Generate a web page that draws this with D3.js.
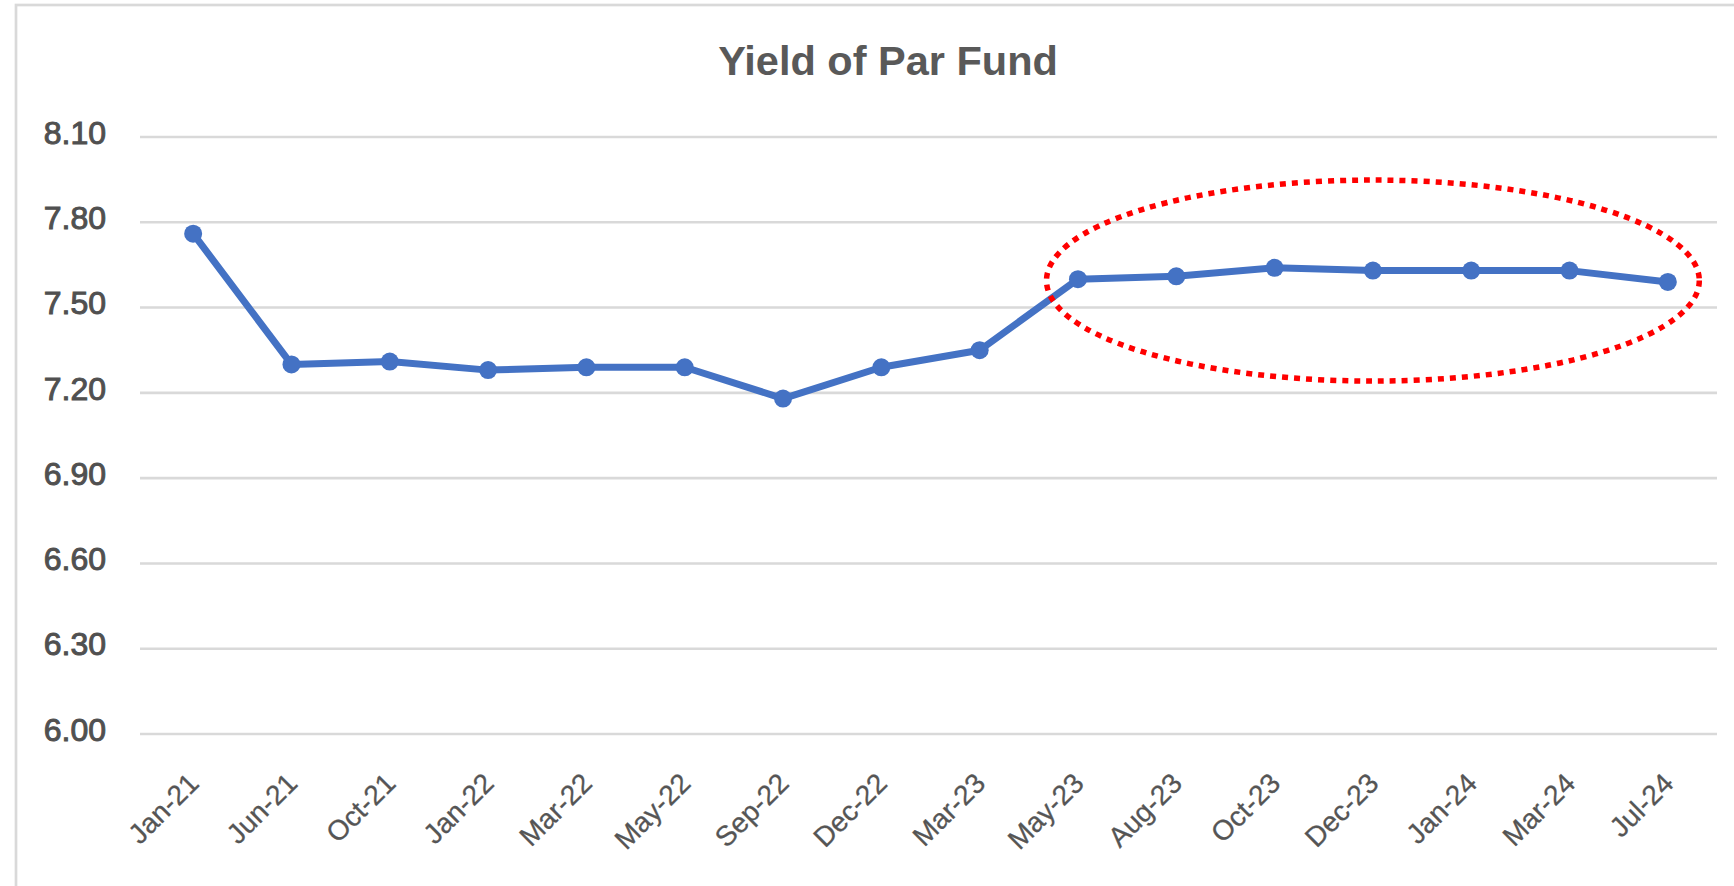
<!DOCTYPE html>
<html>
<head>
<meta charset="utf-8">
<script src="https://cdn.jsdelivr.net/npm/d3@7/dist/d3.min.js"></script>
<style>
  html, body { margin: 0; padding: 0; background: #fff; }
  svg { display: block; }
</style>
</head>
<body>
<svg id="chart" width="1734" height="886"></svg>
<script>
// ---- Data ----
const title = "Yield of Par Fund";
const categories = ["Jan-21","Jun-21","Oct-21","Jan-22","Mar-22","May-22","Sep-22","Dec-22",
                    "Mar-23","May-23","Aug-23","Oct-23","Dec-23","Jan-24","Mar-24","Jul-24"];
const yields = [7.76, 7.30, 7.31, 7.28, 7.29, 7.29, 7.18, 7.29,
                7.35, 7.60, 7.61, 7.64, 7.63, 7.63, 7.63, 7.59];
const yTicks = [6.00, 6.30, 6.60, 6.90, 7.20, 7.50, 7.80, 8.10];
// highlighted region (annotation ellipse)
const highlightFrom = "May-23";
const highlightTo = "Jul-24";
const highlightCenterValue = 7.595;
const highlightHalfHeight = 0.3535;

// ---- Layout ----
const W = 1734, H = 886;
const svg = d3.select("#chart");
const gridLeft = 140, gridRight = 1717;

const x = d3.scalePoint().domain(categories).range([144, 1717]).padding(0.5);
const y = d3.scaleLinear().domain([6.0, 8.1]).range([734, 137]);

// chart border (left & top visible)
svg.append("rect")
  .attr("x", 16).attr("y", 5)
  .attr("width", W + 40).attr("height", H + 40)
  .attr("fill", "none").attr("stroke", "#d9d9d9").attr("stroke-width", 2.7);

// title
svg.append("text")
  .attr("x", 888).attr("y", 75)
  .attr("text-anchor", "middle")
  .attr("font-family", "Liberation Sans, Arial, sans-serif")
  .attr("font-weight", "bold")
  .attr("font-size", 41.5)
  .attr("fill", "#595959")
  .text(title);

// gridlines
svg.append("g").selectAll("line").data(yTicks).join("line")
  .attr("x1", gridLeft).attr("x2", gridRight)
  .attr("y1", d => y(d)).attr("y2", d => y(d))
  .attr("stroke", "#d9d9d9").attr("stroke-width", 2.6);

// y axis labels
const yAxis = d3.axisLeft(y).tickValues(yTicks).tickFormat(d3.format(".2f")).tickSize(0).tickPadding(0);
const gy = svg.append("g").attr("transform", "translate(106,-4)").call(yAxis);
gy.select(".domain").remove();
gy.selectAll("text")
  .attr("font-family", "Liberation Sans, Arial, sans-serif")
  .attr("font-size", 32)
  .attr("fill", "#505050")
  .attr("stroke", "#505050").attr("stroke-width", 1.0);

// x axis labels
const xAxis = d3.axisBottom(x).tickSize(0).tickPadding(0);
const gx = svg.append("g").attr("transform", "translate(0,778)").call(xAxis);
gx.select(".domain").remove();
gx.selectAll("text")
  .attr("font-family", "Liberation Sans, Arial, sans-serif")
  .attr("font-size", 28)
  .attr("fill", "#555555")
  .attr("stroke", "#555555").attr("stroke-width", 0.3)
  .attr("text-anchor", "end")
  .attr("y", 0).attr("dy", "0.35em")
  .attr("transform", "rotate(-45)");

// line
const line = d3.line().x((d, i) => x(categories[i])).y(d => y(d));
svg.append("path").datum(yields)
  .attr("d", line)
  .attr("fill", "none")
  .attr("stroke", "#4472C4")
  .attr("stroke-width", 7)
  .attr("stroke-linejoin", "round");

// markers
svg.append("g").selectAll("circle").data(yields).join("circle")
  .attr("cx", (d, i) => x(categories[i]))
  .attr("cy", d => y(d))
  .attr("r", 9)
  .attr("fill", "#4472C4");

// highlight ellipse
const x0 = x(highlightFrom), x1 = x(highlightTo);
const padX = x.step() * 0.32;
svg.append("ellipse")
  .attr("cx", (x0 + x1) / 2)
  .attr("cy", y(highlightCenterValue))
  .attr("rx", (x1 - x0) / 2 + padX)
  .attr("ry", y(highlightCenterValue - highlightHalfHeight) - y(highlightCenterValue))
  .attr("fill", "none")
  .attr("stroke", "#ff0000")
  .attr("stroke-width", 5.5)
  .attr("stroke-dasharray", "6 6");
</script>
</body>
</html>
